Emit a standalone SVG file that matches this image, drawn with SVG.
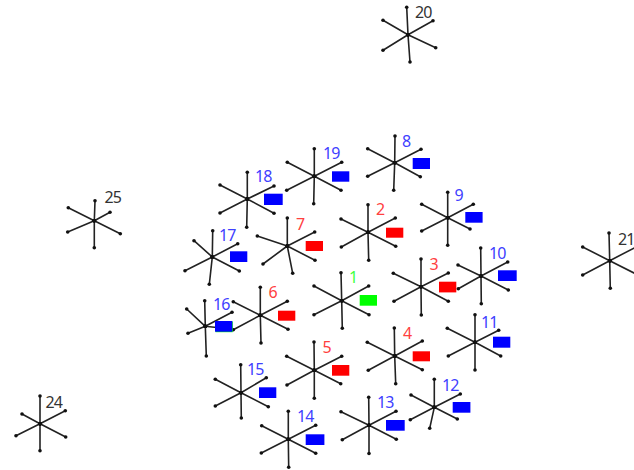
<svg xmlns="http://www.w3.org/2000/svg" width="634" height="470" viewBox="0 0 634 470">
<style>
.s{fill:none;stroke:#222;stroke-width:1.6;marker-start:url(#d);marker-mid:url(#d);marker-end:url(#d)}
text{font-family:"Noto Sans","Liberation Sans",sans-serif;font-size:16px;letter-spacing:-0.8px}
.b{fill:#4040ff}.r{fill:#ff4040}.g{fill:#40ff40}.k{fill:#333}
.rb{fill:#0000ff}.rr{fill:#ff0000}.rg{fill:#00ff00}
</style>
<defs>
<marker id="d" markerUnits="userSpaceOnUse" markerWidth="5" markerHeight="5" refX="2.5" refY="2.5"><circle cx="2.5" cy="2.5" r="1.8" fill="#111"/></marker>
</defs>
<g id="connectors">
<path id="c1" class="s" d="M341.7 300.7L341 272.7M341.7 300.7L368.7 286M341.7 300.7L369 314.7M341.7 300.7L342.3 328.3M341.7 300.7L314 314.7M341.7 300.7L314 286"/>
<path id="c2" class="s" d="M368 232.3L368 204.7M368 232.3L395.3 218M368 232.3L395.7 246.3M368 232.3L368.7 260.3M368 232.3L341.3 247M368 232.3L341 219"/>
<path id="c3" class="s" d="M421 286.7L421 259M421 286.7L448.3 273M421 286.7L448.3 301.3M421 286.7L421.3 315M421 286.7L394 301.3M421 286.7L393.3 273.3"/>
<path id="c4" class="s" d="M394.7 356L394.3 328M394.7 356L422.3 341M394.7 356L422.3 369.7M394.7 356L395.7 383.7M394.7 356L368.3 370.3M394.7 356L367.3 342.3"/>
<path id="c5" class="s" d="M314.3 370.3L314 342M314.3 370.3L341.7 356.3M314.3 370.3L340.7 383.7M314.3 370.3L314.3 398.3M314.3 370.3L287 385M314.3 370.3L286.7 356.3"/>
<path id="c6" class="s" d="M260.3 315.3L260.3 287.3M260.3 315.3L287.3 301.3M260.3 315.3L288 329.3M260.3 315.3L261 343M260.3 315.3L233.3 329.7M260.3 315.3L233.3 301.7"/>
<path id="c7" class="s" d="M287.3 246L287.3 218M287.3 246L314.7 232M287.3 246L315 260.3M287.3 246L292.7 273.3M287.3 246L263 264M287.3 246L257.3 236"/>
<path id="c8" class="s" d="M394.7 162.7L395 136M394.7 162.7L421 149.3M394.7 162.7L420.3 176.7M394.7 162.7L393.7 190.3M394.7 162.7L367.7 176.3M394.7 162.7L367.7 148.7"/>
<path id="c9" class="s" d="M447.7 217.7L447.7 192.3M447.7 217.7L473.3 204.3M447.7 217.7L470 229M447.7 217.7L447.7 245.3M447.7 217.7L421.7 231M447.7 217.7L421.7 204.3"/>
<path id="c10" class="s" d="M481 276L480.7 248M481 276L507.7 262M481 276L508.3 290M481 276L481.3 303.7M481 276L458.3 288.7M481 276L458 265"/>
<path id="c11" class="s" d="M475 342.3L475 314.7M475 342.3L498.7 330.3M475 342.3L500.7 356M475 342.3L475 370M475 342.3L448.3 356M475 342.3L447.3 328.3"/>
<path id="c12" class="s" d="M434.3 407.3L434.3 379.3M434.3 407.3L460.3 394M434.3 407.3L457.3 419M434.3 407.3L429.7 428.3M434.3 407.3L410.3 419.7M434.3 407.3L411 395"/>
<path id="c13" class="s" d="M369 425.3L368.7 397.3M369 425.3L396 411.3M369 425.3L396.3 439.3M369 425.3L369 453.5M369 425.3L342.3 439.7M369 425.3L341 411.7"/>
<path id="c14" class="s" d="M288.3 439.3L288.3 411.3M288.3 439.3L315.7 425.3M288.3 439.3L315.7 453.3M288.3 439.3L288.7 467.3M288.3 439.3L261.3 453M288.3 439.3L261.7 425.7"/>
<path id="c15" class="s" d="M241 392.7L240.7 364.7M241 392.7L266.3 377.7M241 392.7L268.3 406.7M241 392.7L241.3 418M241 392.7L215.3 406M241 392.7L215.3 379.3"/>
<path id="c16" class="s" d="M205.3 326.3L204.7 300.7M205.3 326.3L232 312.3M205.3 326.3L230 329M205.3 326.3L206.3 356M205.3 326.3L188 333.3M205.3 326.3L186.7 309"/>
<path id="c17" class="s" d="M212.3 257L212.7 230.7M212.3 257L237.7 243.7M212.3 257L239.3 271M212.3 257L209.3 284.3M212.3 257L185 270.7M212.3 257L194 240.7"/>
<path id="c18" class="s" d="M247.3 199L247.3 172.3M247.3 199L274 186M247.3 199L274 213.3M247.3 199L246.7 227.3M247.3 199L220 213M247.3 199L220 185"/>
<path id="c19" class="s" d="M314.3 176.3L314.3 148.7M314.3 176.3L341.7 162.3M314.3 176.3L341 190.3M314.3 176.3L313.7 203.7M314.3 176.3L286.7 190.3M314.3 176.3L287.3 162.3"/>
<path id="c20" class="s" d="M408 34.7L406.7 7.3M408 34.7L433 20.7M408 34.7L435.7 47.7M408 34.7L410 62M408 34.7L383 50.3M408 34.7L383 20.3"/>
<path id="c21" class="s" d="M609.7 260.7L609 233M609.7 260.7L636 247M609.7 260.7L636 274M609.7 260.7L610.3 288.3M609.7 260.7L582.7 275M609.7 260.7L582.7 247"/>
<path id="c24" class="s" d="M40 423.7L40 396M40 423.7L65.3 410.7M40 423.7L65.7 437M40 423.7L40 450.7M40 423.7L16 435.7M40 423.7L22 414"/>
<path id="c25" class="s" d="M94.3 220.7L95 200.7M94.3 220.7L110 212.3M94.3 220.7L120.3 233.7M94.3 220.7L94.3 247.7M94.3 220.7L67.7 232M94.3 220.7L68.3 207.7"/>
</g>
<g id="n1"><rect class="rg" x="359.7" y="295" width="17.3" height="10.7"/><text class="g" x="349" y="283">1</text></g>
<g id="n2"><rect class="rr" x="386" y="227.7" width="17.3" height="10"/><text class="r" x="376" y="215">2</text></g>
<g id="n3"><rect class="rr" x="439" y="281.7" width="17.3" height="10.7"/><text class="r" x="429.500" y="270">3</text></g>
<g id="n4"><rect class="rr" x="412.7" y="351.300" width="17.3" height="10"/><text class="r" x="403" y="338.700">4</text></g>
<g id="n5"><rect class="rr" x="332" y="365" width="17.3" height="10.7"/><text class="r" x="322.500" y="353.300">5</text></g>
<g id="n6"><rect class="rr" x="278" y="310.7" width="17.3" height="10"/><text class="r" x="268.500" y="298.300">6</text></g>
<g id="n7"><rect class="rr" x="305.7" y="241" width="17.3" height="10"/><text class="r" x="296" y="230">7</text></g>
<g id="n8"><rect class="rb" x="412.7" y="158" width="17.3" height="11"/><text class="b" x="402" y="146.700">8</text></g>
<g id="n9"><rect class="rb" x="465.3" y="212" width="17.3" height="10.7"/><text class="b" x="454.500" y="201.300">9</text></g>
<g id="n10"><rect class="rb" x="498" y="270.3" width="18.7" height="10.7"/><text class="b" x="489" y="259">10</text></g>
<g id="n11"><rect class="rb" x="493" y="336.7" width="17.3" height="11"/><text class="b" x="481" y="327.700">11</text></g>
<g id="n12"><rect class="rb" x="452.7" y="402" width="17.7" height="10.7"/><text class="b" x="442" y="390.700">12</text></g>
<g id="n13"><rect class="rb" x="386" y="420" width="18.7" height="10.7"/><text class="b" x="377" y="408.300">13</text></g>
<g id="n14"><rect class="rb" x="305.7" y="434.3" width="18.7" height="10.7"/><text class="b" x="297" y="422.300">14</text></g>
<g id="n15"><rect class="rb" x="259" y="387.3" width="17.3" height="10.7"/><text class="b" x="247" y="375">15</text></g>
<g id="n16"><rect class="rg" x="215.500" y="321.500" width="17.3" height="10.7"/><rect class="rb" x="215" y="321" width="17.3" height="10.7"/><text class="b" x="213" y="310">16</text></g>
<g id="n17"><rect class="rb" x="230" y="251.3" width="17.3" height="10.7"/><text class="b" x="219" y="241">17</text></g>
<g id="n18"><rect class="rb" x="264" y="193.7" width="18.7" height="11.3"/><text class="b" x="255" y="182.300">18</text></g>
<g id="n19"><rect class="rb" x="332" y="171.3" width="17.3" height="10.4"/><text class="b" x="323" y="158.700">19</text></g>
<g id="n20"><text class="k" x="415" y="18">20</text></g>
<g id="n21"><text class="k" x="618" y="245.300">21</text></g>
<g id="n24"><text class="k" x="45.500" y="408.300">24</text></g>
<g id="n25"><text class="k" x="104.500" y="202.700">25</text></g>
</svg>
